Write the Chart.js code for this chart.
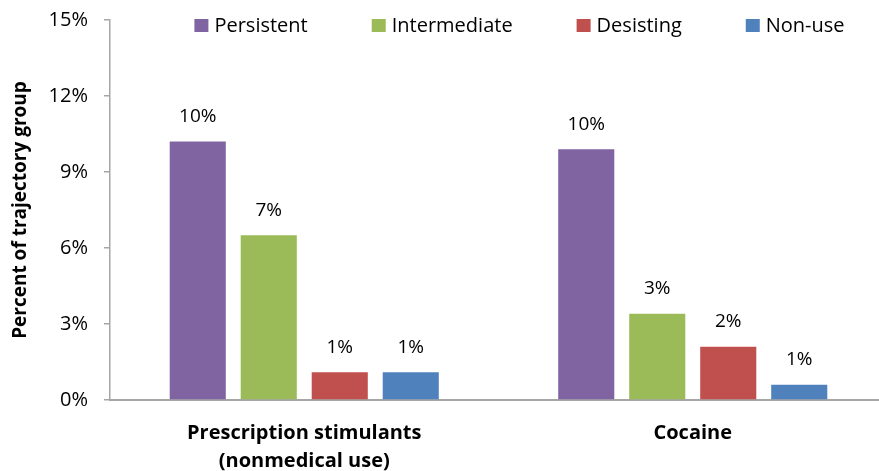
<!DOCTYPE html>
<html>
<head>
<meta charset="utf-8">
<script src="https://cdn.jsdelivr.net/npm/chart.js@4.4.1/dist/chart.umd.min.js"></script>
<style>
  html, body { margin: 0; padding: 0; background: #fff; overflow: hidden; }
  /* the original plot runs a few px past the right edge of the picture */
  #wrap { width: 887px; height: 471px; position: relative; }
</style>
</head>
<body>
<div id="wrap"><canvas id="trajectory-chart"></canvas></div>
<script>
// values (percent of trajectory group)
const categories = [['Prescription stimulants', '(nonmedical use)'], 'Cocaine'];
const persistent = [10.2, 9.9];
const intermediate = [6.5, 3.4];
const desisting = [1.1, 2.1];
const nonUse = [1.1, 0.6];
const yTicks = [0, 3, 6, 9, 12, 15];

const fontFamily = "'Open Sans', 'Noto Sans', sans-serif";

// draws rounded percent above every bar
const barLabels = {
  id: 'barLabels',
  afterDatasetsDraw(chart) {
    const ctx = chart.ctx;
    ctx.save();
    ctx.font = '19px ' + fontFamily;
    ctx.fillStyle = '#000';
    ctx.textAlign = 'center';
    ctx.textBaseline = 'middle';
    chart.data.datasets.forEach((ds, i) => {
      chart.getDatasetMeta(i).data.forEach((bar, j) => {
        ctx.fillText(Math.round(ds.data[j]) + '%', bar.x, bar.y - 25);
      });
    });
    ctx.restore();
  }
};

// horizontal legend sitting over the top of the plot, like the excel one
const topLegend = {
  id: 'topLegend',
  afterDraw(chart) {
    const ctx = chart.ctx;
    const area = chart.chartArea;
    const box = 14, gap = 6, itemGap = 64;
    ctx.save();
    ctx.font = '20px ' + fontFamily;
    ctx.textBaseline = 'middle';
    ctx.textAlign = 'left';
    const items = chart.data.datasets.map(ds => ({
      text: ds.label, color: ds.backgroundColor, w: ctx.measureText(ds.label).width
    }));
    let total = items.reduce((s, it) => s + box + gap + it.w, 0) + itemGap * (items.length - 1);
    let x = (area.left + area.right) / 2 + 21 - total / 2;
    const y = chart.scales.y.getPixelForValue(15) + 6;
    items.forEach(it => {
      ctx.fillStyle = it.color;
      ctx.fillRect(x, y - box / 2, box, box - 1);
      ctx.fillStyle = '#000';
      ctx.fillText(it.text, x + box + gap, y);
      x += box + gap + it.w + itemGap;
    });
    ctx.restore();
  }
};

const trajectorychart = document.getElementById('trajectory-chart');
new Chart(trajectorychart, {
  type: 'bar',
  data: {
    labels: categories,
    datasets: [
      { label: 'Persistent', data: persistent, backgroundColor: '#8064A2' },
      { label: 'Intermediate', data: intermediate, backgroundColor: '#9BBB59' },
      { label: 'Desisting', data: desisting, backgroundColor: '#C0504D' },
      { label: 'Non-use', data: nonUse, backgroundColor: '#4F81BD' }
    ]
  },
  options: {
    responsive: true,
    maintainAspectRatio: false,
    animation: false,
    categoryPercentage: 0.731,
    barPercentage: 0.79,
    layout: { padding: { top: 20, right: 0, left: 0, bottom: 0 } },
    plugins: {
      legend: { display: false },
      tooltip: { enabled: false }
    },
    scales: {
      x: {
        grid: { display: false, drawTicks: false },
        border: { color: '#a6a6a6', width: 2 },
        ticks: {
          color: '#000',
          padding: 19,
          font: { family: fontFamily, size: 20, weight: 'bold', lineHeight: 1.4 }
        },
        afterFit(scale) { scale.height = 71; scale.paddingLeft = 0; scale.paddingRight = 0; }
      },
      y: {
        min: 0,
        max: 15,
        afterBuildTicks(scale) { scale.ticks = yTicks.map(v => ({ value: v })); },
        grid: { display: true, drawOnChartArea: false, tickLength: 6, color: '#a6a6a6', lineWidth: 1.5 },
        border: { color: '#a6a6a6', width: 1.5 },
        ticks: {
          color: '#000',
          padding: 16,
          font: { family: fontFamily, size: 20 },
          callback: v => v + '%'
        },
        title: {
          display: true,
          text: 'Percent of trajectory group',
          color: '#000',
          padding: { top: 9, bottom: 0 },
          font: { family: fontFamily, size: 19, weight: 'bold' }
        },
        afterFit(scale) { scale.width = 110; scale.paddingTop = 0; scale.paddingBottom = 0; }
      }
    }
  },
  plugins: [barLabels, topLegend]
});
</script>
</body>
</html>
